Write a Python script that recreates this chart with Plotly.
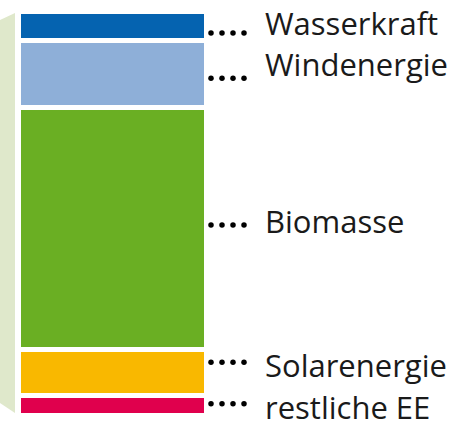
import plotly.graph_objects as go

# Anteile erneuerbarer Energien (%), von oben nach unten
sources = ["Wasserkraft", "Windenergie", "Biomasse", "Solarenergie", "restliche EE"]
shares = [7.2, 16.6, 60.1, 11.3, 4.8]
colors = ["#0563b0", "#8eafd8", "#6aaf23", "#f9b800", "#e0004d"]

# Lage der Beschriftungen relativ zur Segmentmitte (px, nach unten positiv)
dot_offset_px = [7, 4, -4, -11, -2]
text_offset_px = [-3, -10, -8, -8, 1]

W, H = 460, 430
bar_center, bar_width = 112.5, 188
y_min, y_max = -3.59, 102.85
px_per_unit = H / (y_max - y_min)

fig = go.Figure()

# gestapelt von unten nach oben
base = 0
mids = {}
for name, val, col in reversed(list(zip(sources, shares, colors))):
    fig.add_trace(go.Bar(
        x=[bar_center], y=[val], base=[base], width=bar_width,
        marker=dict(color=col, line=dict(color="white", width=5)),
        name=name, showlegend=False, hoverinfo="skip"
    ))
    mids[name] = base + val / 2
    base += val

dot_x = [211, 222, 233, 244]
for name, dpx, tpx in zip(sources, dot_offset_px, text_offset_px):
    y_dot = mids[name] - dpx / px_per_unit
    fig.add_trace(go.Scatter(
        x=dot_x, y=[y_dot] * len(dot_x), mode="markers",
        marker=dict(color="black", size=5.5), showlegend=False, hoverinfo="skip"
    ))
    fig.add_annotation(
        x=263, y=mids[name] - tpx / px_per_unit, text=name, showarrow=False,
        xanchor="left", yanchor="middle",
        font=dict(family="Open Sans", size=31, color="#1a1a1a")
    )

# hellgrüne Seitenfläche links
fig.add_shape(
    type="path", xref="x", yref="paper",
    path="M 0,{:.4f} L 15,{:.4f} L 15,{:.4f} L 0,{:.4f} Z".format(
        1 - 20 / H, 1 - 13 / H, 1 - 413 / H, 1 - 403 / H),
    fillcolor="#dfe8cb", line=dict(width=0), layer="below"
)

fig.update_layout(
    width=W, height=H,
    margin=dict(l=0, r=0, t=0, b=0),
    paper_bgcolor="white", plot_bgcolor="white",
    barmode="overlay", bargap=0,
    xaxis=dict(range=[0, W], visible=False, fixedrange=True),
    yaxis=dict(range=[y_min, y_max], visible=False, fixedrange=True),
)

fig.write_html(
    "out.html",
    config={"displayModeBar": False},
    post_script="document.body.style.margin='0';document.body.style.overflow='hidden';",
)
